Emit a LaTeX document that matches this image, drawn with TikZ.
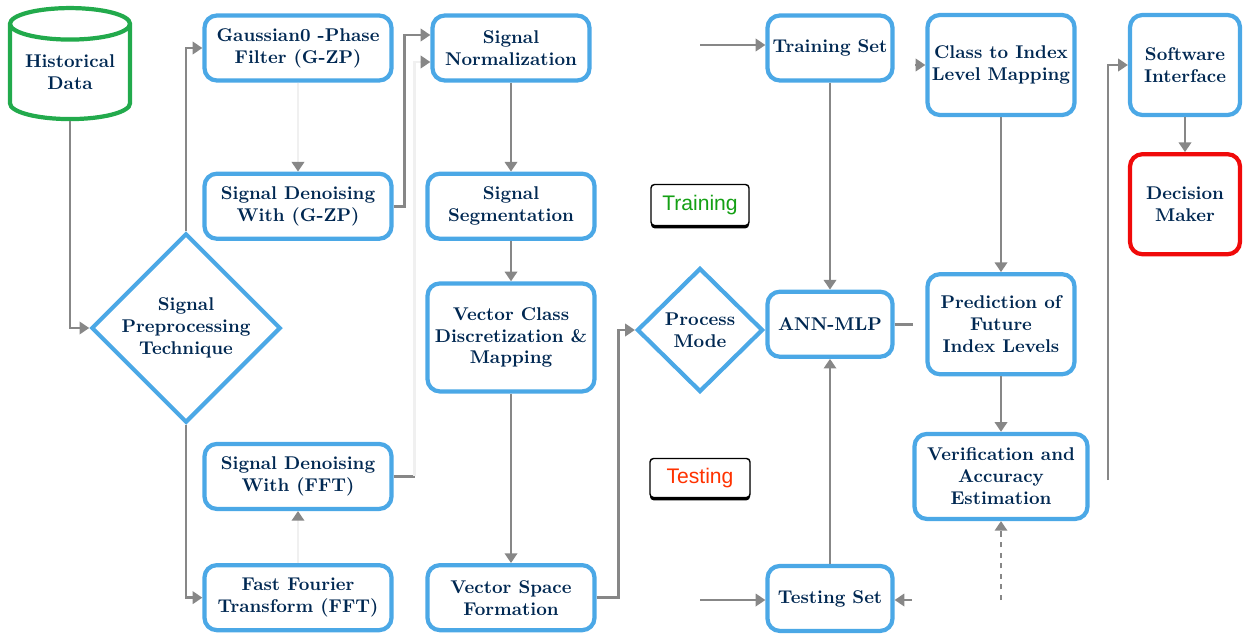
\documentclass[tikz,border=0pt]{standalone}
\usepackage{fontspec}
\setsansfont{Liberation Sans}
\usetikzlibrary{arrows.meta, positioning, shapes.geometric, shadows}
\definecolor{boxblue}{RGB}{75,168,230}
\definecolor{textnavy}{RGB}{0,40,82}
\definecolor{storegreen}{RGB}{34,170,76}
\definecolor{makerred}{RGB}{240,10,10}
\definecolor{linkgray}{RGB}{135,135,135}
\definecolor{traingreen}{RGB}{20,160,20}
\definecolor{testred}{RGB}{255,50,0}

\begin{document}
\begin{tikzpicture}[
    node distance=1cm and 1cm,
    align=center,
    font=\fontsize{10.5}{12.5}\selectfont\bfseries,
    text=textnavy,
    box/.style={draw=boxblue, line width=2.4pt, rounded corners=7pt, fill=white, inner sep=2pt},
    store/.style={cylinder, shape border rotate=90, aspect=0.35, draw=storegreen, line width=2.4pt, minimum width=2.4cm, minimum height=2.22cm, inner sep=0pt},
    choice/.style={diamond, draw=boxblue, line width=2.4pt, fill=white, inner sep=0pt},
    tag/.style={draw=black, thick, rounded corners=2pt, fill=white, inner sep=1pt, font=\sffamily\fontsize{12}{14}\selectfont,
        drop shadow={shadow xshift=0pt, shadow yshift=-1.6pt, fill=black, opacity=1}},
    link/.style={draw=linkgray, line width=1.6pt},
    arrow/.style={link, -{Triangle[length=5.5pt, width=7pt]}},
    faint/.style={draw=gray!12, line width=1.6pt, -{Triangle[length=5.5pt, width=7pt, color=linkgray]}}
]
    \useasboundingbox (0,0) rectangle (24.88,-12.7);

    % Nodes
    \node (hist) [store] at (1.4,-1.45) {Historical\\Data};
    \node (gauss) [box, minimum width=3.74cm, minimum height=1.3cm] at (5.96,-0.96) {Gaussian0 -Phase\\Filter (G-ZP)};
    \node (dgzp) [box, minimum width=3.74cm, minimum height=1.3cm, below=1.78cm of gauss] {Signal Denoising\\With (G-ZP)};
    \node (dfft) [box, minimum width=3.74cm, minimum height=1.3cm, below=4.02cm of dgzp] {Signal Denoising\\With (FFT)};
    \node (fft) [box, minimum width=3.74cm, minimum height=1.3cm, below=1.04cm of dfft] {Fast Fourier\\Transform (FFT)};
    \node (prep) [choice, minimum width=3.76cm, minimum height=3.62cm] at (3.72,-6.56) {Signal\\Preprocessing\\Technique};

    \node (norm) [box, minimum width=3.14cm, minimum height=1.3cm] at (10.22,-0.96) {Signal\\Normalization};
    \node (seg) [box, minimum width=3.34cm, minimum height=1.3cm, below=1.78cm of norm] {Signal\\Segmentation};
    \node (vcm) [box, minimum width=3.34cm, minimum height=2.16cm, below=0.81cm of seg] {Vector Class\\Discretization \&\\Mapping};
    \node (vsf) [box, minimum width=3.34cm, minimum height=1.3cm, below=3.39cm of vcm] {Vector Space\\Formation};

    \node (mode) [choice, minimum width=2.52cm, minimum height=2.48cm] at (14.0,-6.6) {Process\\Mode};
    \node (lbltrain) [tag, text=traingreen, minimum width=1.96cm, minimum height=0.82cm] at (14.0,-4.1) {Training};
    \node (lbltest) [tag, text=testred, minimum width=2.0cm, minimum height=0.78cm] at (14.0,-9.56) {Testing};

    \node (trainset) [box, minimum width=2.5cm, minimum height=1.3cm] at (16.6,-0.96) {Training Set};
    \node (ann) [box, minimum width=2.5cm, minimum height=1.3cm, below=4.14cm of trainset] {ANN-MLP};
    \node (testset) [box, minimum width=2.5cm, minimum height=1.3cm, below=4.1cm of ann] {Testing Set};

    \node (class) [box, minimum width=2.94cm, minimum height=2.0cm] at (20.02,-1.3) {Class to Index\\Level Mapping};
    \node (pred) [box, minimum width=2.94cm, minimum height=2.0cm, below=3.1cm of class] {Prediction of\\Future\\Index Levels};
    \node (verif) [box, minimum width=3.46cm, minimum height=1.7cm, below=1.11cm of pred] {Verification and\\Accuracy\\Estimation};

    \node (soft) [box, minimum width=2.2cm, minimum height=2.0cm] at (23.7,-1.3) {Software\\Interface};
    \node (dec) [box, draw=makerred, minimum width=2.2cm, minimum height=2.0cm, below=0.7cm of soft] {Decision\\Maker};

    % Free ends
    \coordinate (trainin) at (14.0,-0.9);
    \coordinate (testin) at (14.0,-12.0);
    \coordinate (annout) at (18.26,-6.5);
    \coordinate (classin) at (18.3,-1.3);
    \coordinate (testback) at (18.24,-12.0);
    \coordinate (verifin) at (20.02,-12.0);
    \coordinate (softin) at (22.16,-9.6);

    % Edges
    \draw [arrow] (hist.south) |- (prep.west);
    \draw [arrow] (prep.north) |- (gauss.west);
    \draw [arrow] (prep.south) |- (fft.west);
    \draw [faint] (gauss.south) -- (dgzp.north);
    \draw [faint] (fft.north) -- (dfft.south);
    \draw [arrow] (dgzp.east) -- ++(0.22,0) |- ([yshift=0.26cm]norm.west);
    \draw [link] (dfft.east) -- ++(0.42,0) coordinate (dfftout);
    \draw [faint] (dfftout) |- ([yshift=-0.28cm]norm.west);
    \draw [arrow] (norm) -- (seg);
    \draw [arrow] (seg) -- (vcm);
    \draw [arrow] (vcm) -- (vsf);
    \draw [arrow] (vsf.east) -- ++(0.44,0) |- (mode.west);
    \draw [arrow] (trainin) -- (trainin -| trainset.west);
    \draw [arrow] (testin) -- (testin -| testset.west);
    \draw [arrow] (trainset) -- (ann);
    \draw [arrow] (testset) -- (ann);
    \draw [link] (ann.east) -- (ann.east -| annout);
    \draw [arrow] (classin) -- (classin -| class.west);
    \draw [arrow] (testback) -- (testback -| testset.east);
    \draw [arrow] (class) -- (pred);
    \draw [arrow] (pred) -- (verif);
    \draw [arrow, dashed] (verifin) -- (verif.south);
    \draw [arrow] (softin) |- (soft.west);
    \draw [arrow] (soft) -- (dec);
\end{tikzpicture}
\end{document}
